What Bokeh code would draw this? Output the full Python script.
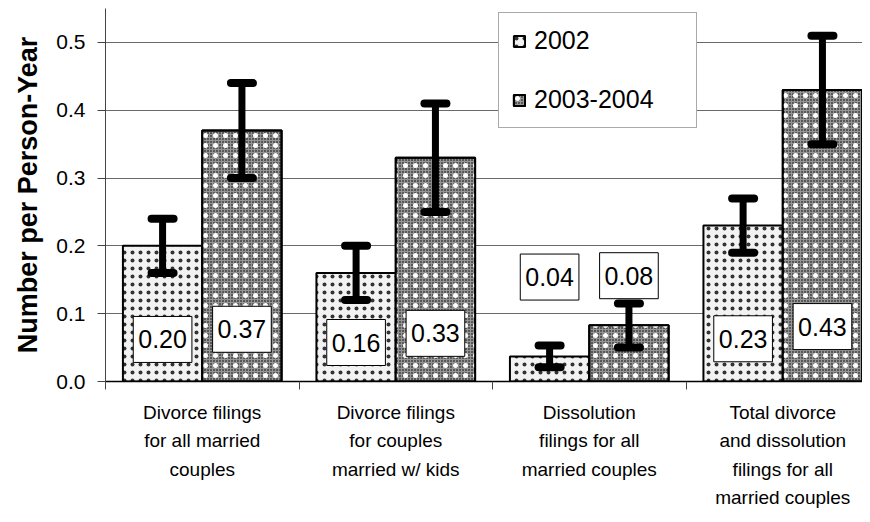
import numpy as np
from bokeh.plotting import figure
from bokeh.models import (FixedTicker, Range1d, ColumnDataSource, Legend, LegendItem)
from bokeh.core.properties import value
from bokeh.embed import file_html
from bokeh.resources import INLINE

# ---------------- data ----------------
categories = [
    "Divorce filings\nfor all married\ncouples",
    "Divorce filings\nfor couples\nmarried w/ kids",
    "Dissolution\nfilings for all\nmarried couples",
    "Total divorce\nand dissolution\nfilings for all\nmarried couples",
]
series_names = ["2002", "2003-2004"]
values_2002 = [0.20, 0.16, 0.037, 0.23]
values_2003 = [0.37, 0.33, 0.083, 0.43]
lower_2002 = [0.16, 0.12, 0.021, 0.19]
upper_2002 = [0.24, 0.20, 0.053, 0.27]
lower_2003 = [0.30, 0.25, 0.050, 0.35]
upper_2003 = [0.44, 0.41, 0.115, 0.51]
labels_2002 = ["0.20", "0.16", "0.04", "0.23"]
labels_2003 = ["0.37", "0.33", "0.08", "0.43"]
label_y_2002 = [0.062, 0.0575, 0.154, 0.063]
label_y_2003 = [0.077, 0.071, 0.156, 0.081]
y_ticks = [0.0, 0.1, 0.2, 0.3, 0.4, 0.5]
y_tick_labels = ["0.0", "0.1", "0.2", "0.3", "0.4", "0.5"]

FONT = "Liberation Sans"

centers = np.arange(len(categories)) + 0.5
offset = 0.205
bar_w = 0.41
x2002 = centers - offset
x2003 = centers + offset

p = figure(width=862, height=514, x_range=Range1d(0, 3.912), y_range=Range1d(0, 0.55),
           output_backend="svg", toolbar_location=None,
           min_border_left=105, min_border_right=0, min_border_top=8, min_border_bottom=133)
p.outline_line_color = None
p.background_fill_color = "white"
p.border_fill_color = "white"

# grid
p.xgrid.visible = False
p.ygrid.ticker = FixedTicker(ticks=y_ticks)
p.ygrid.grid_line_color = "#6a6a6a"
p.ygrid.grid_line_width = 1

# y axis
yax = p.yaxis[0]
yax.ticker = FixedTicker(ticks=y_ticks, minor_ticks=[])
yax.major_label_overrides = {t: l for t, l in zip(y_ticks, y_tick_labels)}
yax.major_tick_out = 8
yax.major_tick_in = 0
yax.major_label_standoff = 12
yax.major_label_text_font = FONT
yax.major_label_text_font_size = "21px"
yax.major_label_text_color = "black"
yax.axis_label = "Number per Person-Year"
yax.axis_label_text_font = FONT
yax.axis_label_text_font_style = "bold"
yax.axis_label_text_font_size = "27px"
yax.axis_label_text_color = "black"
yax.axis_label_standoff = 10
yax.axis_line_color = "#444444"
yax.major_tick_line_color = "#444444"

# x axis: category names at centers, boundary ticks as minor ticks
xax = p.xaxis[0]
xax.ticker = FixedTicker(ticks=list(centers), minor_ticks=[0, 1, 2, 3])
xax.major_label_overrides = {float(c): lab for c, lab in zip(centers, categories)}
xax.major_tick_line_color = None
xax.major_tick_out = 0
xax.major_tick_in = 0
xax.major_label_standoff = 12
xax.minor_tick_out = 8
xax.minor_tick_in = 0
xax.minor_tick_line_color = "#444444"
xax.axis_line_color = "black"
xax.axis_line_width = 1.5
xax.major_label_text_font = FONT
xax.major_label_text_font_size = "19px"
xax.major_label_text_color = "black"
xax.major_label_text_line_height = 1.36

# bars 2002
r2002 = p.vbar(x=x2002, top=values_2002, width=bar_w, bottom=0,
               fill_color="#f2f2f2", line_color="black", line_width=2,
               hatch_pattern="dot", hatch_color="#333333", hatch_scale=8, hatch_weight=2)
# bars 2003-2004 (textured base + white dots)
r2003a = p.vbar(x=x2003, top=values_2003, width=bar_w, bottom=0,
                fill_color="#585858", line_color="black", line_width=2,
                hatch_pattern="cross", hatch_color="#969696", hatch_scale=3, hatch_weight=1)
r2003b = p.vbar(x=x2003, top=values_2003, width=bar_w, bottom=0,
                fill_color=None, line_color="black", line_width=2,
                hatch_pattern="dot", hatch_color="white", hatch_scale=10, hatch_weight=3)

# error bars
xs_err = list(x2002) + list(x2003)
lo = lower_2002 + lower_2003
hi = upper_2002 + upper_2003
p.segment(x0=xs_err, y0=lo, x1=xs_err, y1=hi, line_color="black", line_width=7)
p.scatter(x=xs_err + xs_err, y=lo + hi, marker="dash", size=22, line_color="black",
          line_width=8, line_cap="round")

# value labels
lab_src = ColumnDataSource(dict(
    x=list(x2002) + list(x2003),
    y=label_y_2002 + label_y_2003,
    text=labels_2002 + labels_2003,
))
p.text(x="x", y="y", text="text", source=lab_src, text_align="center", text_baseline="middle",
       text_font=value(FONT), text_font_size="25px", text_color="black",
       background_fill_color="white", border_line_color="black", border_line_width=1,
       padding=(5, 14))

# legend
legend = Legend(items=[LegendItem(label=series_names[0], renderers=[r2002]),
                       LegendItem(label=series_names[1], renderers=[r2003a, r2003b])],
                location=(393, 253))
legend.label_text_font = FONT
legend.label_text_font_size = "25px"
legend.label_text_color = "black"
legend.glyph_width = 14
legend.glyph_height = 14
legend.label_standoff = 8
legend.label_height = 20
legend.label_width = 149
legend.spacing = 30
legend.padding = 13
legend.margin = 0
legend.border_line_color = "#555555"
legend.border_line_width = 1.5
legend.background_fill_color = "white"
legend.background_fill_alpha = 1
p.add_layout(legend)

open("out.html", "w").write(file_html(p, INLINE))
